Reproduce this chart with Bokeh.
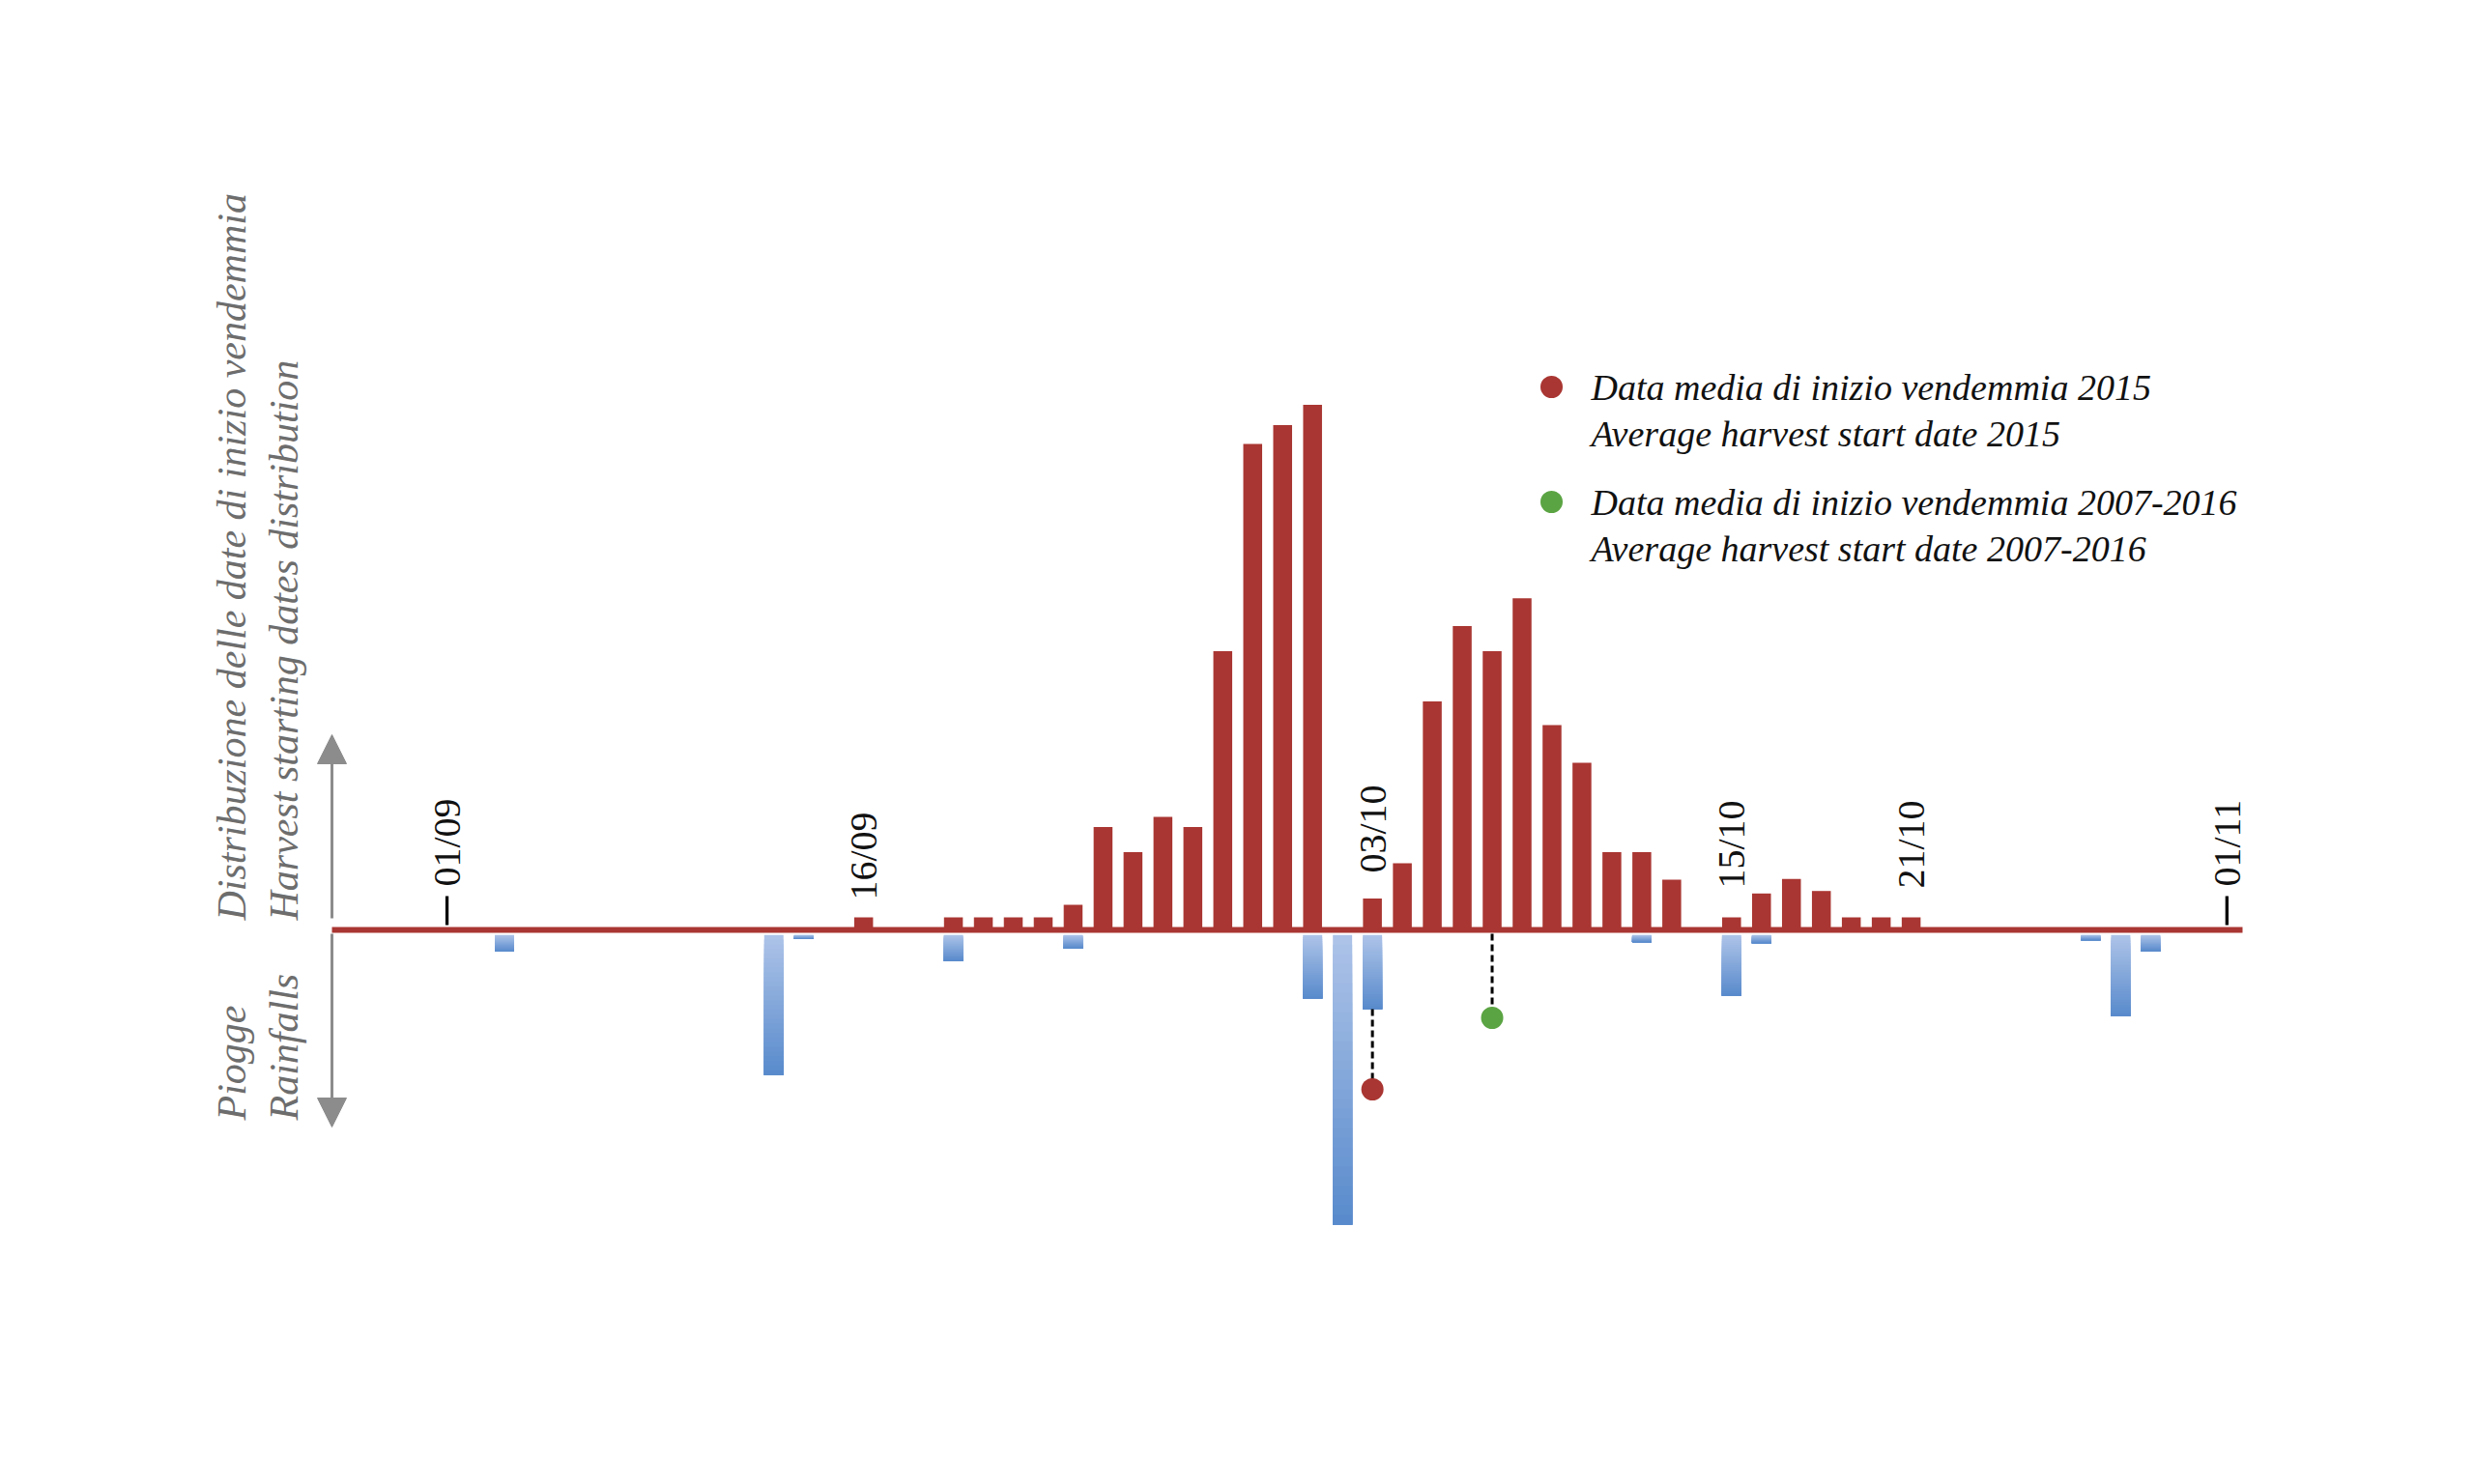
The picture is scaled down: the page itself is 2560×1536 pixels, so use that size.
from math import pi
from bokeh.plotting import figure
from bokeh.models import Range1d, Arrow, NormalHead, ColumnDataSource
from bokeh.core.properties import value
from bokeh.embed import file_html
from bokeh.resources import INLINE

# ---------------- data ----------------
# day index: 0 = 01/09
harvest_days = [15, 18, 19, 20, 21, 22, 23, 24, 25, 26, 27, 28, 29, 30,
                32, 33, 34, 35, 36, 37, 38, 39, 40, 41, 42,
                44, 45, 46, 47, 48, 49, 50]
harvest_share = [1.0, 1.0, 1.0, 1.0, 1.0, 2.0, 8.2, 6.2, 9.0, 8.2, 22.2, 38.7, 40.2, 41.8,
                 2.5, 5.3, 18.2, 24.2, 22.2, 26.4, 16.3, 13.3, 6.2, 6.2, 4.0,
                 1.0, 2.9, 4.05, 3.1, 1.0, 1.0, 1.0]
rain_days = [3, 12, 13, 18, 22, 30, 31, 32, 41, 44, 45, 56, 57, 58]
rain_mm = [2.25, 15.0, 0.95, 3.2, 1.9, 7.1, 30.5, 8.2, 1.27, 6.8, 1.37, 1.07, 8.9, 2.2]
tick_days = [1.08, 15, 32, 44, 50, 60.55]
tick_labels = ["01/09", "16/09", "03/10", "15/10", "21/10", "01/11"]
mean_2015_day = 32
mean_2007_2016_day = 36
legend_lines = ["Data media di inizio vendemmia 2015",
                "Average harvest start date 2015",
                "Data media di inizio vendemmia 2007-2016",
                "Average harvest start date 2007-2016"]

# ---------------- layout helpers (page pixels -> data) ----------------
PX_PER_DAY = 30.97
X0_PAGE = 428.6
BASE_PAGE = 962.0
PX_PER_UNIT = 13.0
RAIN_SCALE = 10.0 / 13.0   # data units per mm


def dx(px):
    return (px - X0_PAGE) / PX_PER_DAY


def dy(py):
    return (BASE_PAGE - py) / PX_PER_UNIT


RED = "#a93632"
GREEN = "#5ba443"
GREY_TXT = "#6d6d6d"
GREY_ARROW = "#8c8c8c"

p = figure(width=2544, height=1520,
           x_range=Range1d(dx(0), dx(2544)), y_range=Range1d(dy(1520), dy(0)),
           output_backend="svg", toolbar_location=None,
           x_axis_location=None, y_axis_location=None,
           min_border=0, outline_line_color=None)
p.grid.visible = False
p.background_fill_color = "white"
p.border_fill_color = "white"

# ---------------- rain bars with vertical gradient ----------------
light = (174, 196, 232)
dark = (88, 138, 204)
N = 30
ql, qr, qt, qb, qc = [], [], [], [], []
top0 = -0.4
for d, mm in zip(rain_days, rain_mm):
    bottom = -mm * RAIN_SCALE
    h = top0 - bottom
    for i in range(N):
        t0 = top0 - h * i / N
        f = (i + 0.5) / N
        c = tuple(int(round(light[k] + (dark[k] - light[k]) * f)) for k in range(3))
        ql.append(d - 0.322)
        qr.append(d + 0.322)
        qt.append(t0)
        qb.append(bottom)
        qc.append("#%02x%02x%02x" % c)
p.quad(left=ql, right=qr, top=qt, bottom=qb, fill_color=qc, line_color=None)

# ---------------- harvest bars ----------------
src = ColumnDataSource(dict(x=harvest_days, top=harvest_share))
p.vbar(x="x", top="top", bottom=0, width=0.63, source=src,
       fill_color=RED, line_color=None)

# baseline
p.segment(x0=[dx(343)], y0=[0], x1=[dx(2320)], y1=[0], line_color=RED, line_width=6)

# ---------------- mean dates ----------------
red_dot_y = dy(1127)
green_dot_y = dy(1053)
rain_at_mean = rain_mm[rain_days.index(mean_2015_day)] * RAIN_SCALE
p.segment(x0=[mean_2015_day], y0=[-rain_at_mean], x1=[mean_2015_day], y1=[red_dot_y],
          line_color="black", line_width=3, line_dash="7 4")
p.segment(x0=[mean_2007_2016_day], y0=[-0.3], x1=[mean_2007_2016_day], y1=[green_dot_y],
          line_color="black", line_width=3, line_dash="7 4")
p.scatter(x=[mean_2015_day], y=[red_dot_y], size=23, fill_color=RED, line_color=None)
p.scatter(x=[mean_2007_2016_day], y=[green_dot_y], size=23, fill_color=GREEN, line_color=None)

# ---------------- date labels ----------------
label_bottom_px = [917, 931, 903, 919, 919, 917]
p.text(x=tick_days, y=[dy(v) for v in label_bottom_px], text=tick_labels,
       angle=pi / 2, text_align="left", text_baseline="middle",
       text_font=value("Liberation Serif"), text_font_size="40px", text_color="#111111")
end_ticks = [tick_days[0], tick_days[-1]]
p.segment(x0=end_ticks, y0=[dy(927)] * 2, x1=end_ticks, y1=[dy(957)] * 2,
          line_color="black", line_width=3.3)

# ---------------- legend ----------------
p.scatter(x=[dx(1605), dx(1605)], y=[dy(400), dy(519)], size=23,
          fill_color=[RED, GREEN], line_color=None)
p.text(x=[dx(1646)] * 4, y=[dy(400), dy(448), dy(519), dy(567)], text=legend_lines,
       text_align="left", text_baseline="middle",
       text_font=value("Liberation Serif"), text_font_style="italic",
       text_font_size="38px", text_color="#111111")

# ---------------- side titles ----------------
p.text(x=[dx(239), dx(293), dx(239), dx(293)],
       y=[dy(952), dy(952), dy(1159), dy(1159)],
       text=["Distribuzione delle date di inizio vendemmia",
             "Harvest starting dates distribution",
             "Piogge", "Rainfalls"],
       angle=pi / 2, text_align="left", text_baseline="alphabetic",
       text_font=value("Liberation Serif"), text_font_style="italic",
       text_font_size="42px", text_color=GREY_TXT)

# arrows
ax = dx(343)
p.add_layout(Arrow(end=NormalHead(size=30, fill_color=GREY_ARROW, line_color=GREY_ARROW),
                   x_start=ax, y_start=dy(950), x_end=ax, y_end=dy(760),
                   line_color=GREY_ARROW, line_width=3))
p.add_layout(Arrow(end=NormalHead(size=30, fill_color=GREY_ARROW, line_color=GREY_ARROW),
                   x_start=ax, y_start=dy(966), x_end=ax, y_end=dy(1166),
                   line_color=GREY_ARROW, line_width=3))

open("out.html", "w").write(file_html(p, INLINE, "Vendemmia"))
